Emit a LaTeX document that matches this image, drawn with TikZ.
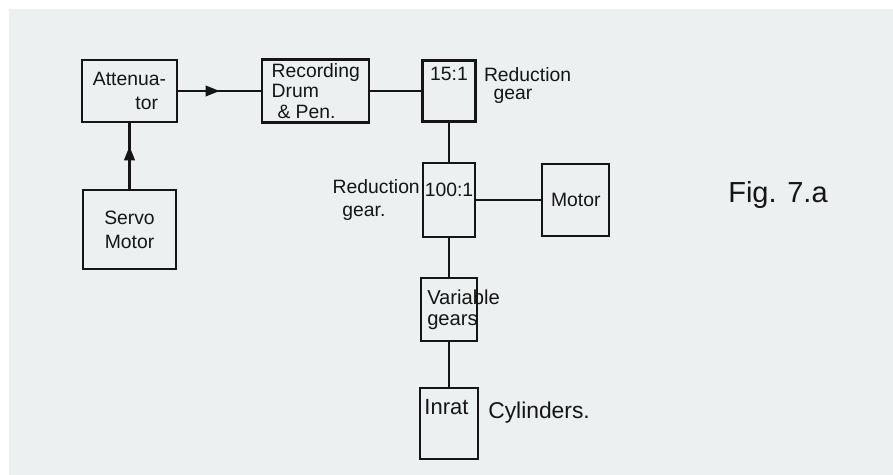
\documentclass[tikz,border=0pt]{standalone}
\usepackage{fontspec}
\setmainfont{Liberation Sans}
\usetikzlibrary{arrows.meta,positioning,decorations.markings}
\definecolor{Ink}    {HTML}{151515}
\definecolor{PaperBg}{HTML}{EDF0F0}

\begin{document}
\begin{tikzpicture}[x=0.02cm,y=-0.02cm,
  box/.style={draw=Ink,rectangle,line width=1.3pt,
    font=\fontsize{11}{14}\selectfont\color{Ink},align=center,inner sep=2pt},
  txt/.style={font=\fontsize{11}{13}\selectfont\color{Ink},align=left,inner sep=0pt},
  link/.style={color=Ink,line width=1.2pt},
  midarr/.style={postaction={decorate},decoration={markings,
    mark=at position #1 with {\arrow{Triangle[length=8pt,width=6pt]}}}},
  midarr/.default=0.5
]
% paper
\fill[white] (0,0) rectangle (893,475);
\fill[PaperBg] (9,9) rectangle (893,475);
\useasboundingbox (0,0) rectangle (893,475);

\node[box,align=left,minimum width=1.9cm,minimum height=1.24cm](att) at (129.5,91)
  {Attenua-\\\hspace*{2.2em}tor};
\node[box,align=left,minimum width=2.14cm,minimum height=1.26cm,inner sep=1pt,
  font=\fontsize{11}{11.5}\selectfont\color{Ink},right=1.66cm of att](rec)
  {Recording\\Drum\\\hspace*{0.3em}\& Pen.};
\node[box,minimum width=1.06cm,minimum height=1.22cm,right=1.02cm of rec](r15){};
\node[box,minimum width=1.04cm,minimum height=1.48cm,below=0.78cm of r15](r100){};
\node[box,minimum width=1.34cm,minimum height=1.44cm,right=1.3cm of r100](motor){Motor};
\node[box,minimum width=1.12cm,minimum height=1.26cm,below=0.78cm of r100](var){};
\node[box,minimum width=1.16cm,minimum height=1.42cm,below=0.9cm of var](inrat){};
\node[box,minimum width=1.86cm,minimum height=1.58cm,below=1.32cm of att](servo)
  {Servo\\Motor};

% texts in and beside the boxes
\node[txt,anchor=north](r15t) at ([yshift=-4.5pt]r15.north){15:1};
\node[txt,anchor=north west,font=\fontsize{11}{10}\selectfont\color{Ink}](r15l)
  at ([xshift=4pt,yshift=-4.5pt]r15.north east){Reduction\\\hspace*{0.5em}gear};
\node[txt,anchor=north](r100t) at ([yshift=-12pt]r100.north){100:1};
\node[txt,anchor=north east](r100l) at ([xshift=-1pt,yshift=-10pt]r100.north west)
  {Reduction\\\hspace*{0.5em}gear.};
\node[txt,anchor=north west,font=\fontsize{11.5}{12}\selectfont\color{Ink}](vart)
  at ([xshift=4pt,yshift=-7pt]var.north west){Variable\\gears};
\node[txt,anchor=north west,font=\fontsize{12.5}{13}\selectfont\color{Ink}](inratt)
  at ([xshift=3pt,yshift=-7pt]inrat.north west){Inrat};
\node[txt,anchor=north west,font=\fontsize{13}{14}\selectfont\color{Ink}](cyl)
  at ([xshift=5pt,yshift=-8pt]inrat.north east){Cylinders.};
\node[txt,font=\fontsize{16.5}{18}\selectfont\color{Ink}](fig) at (778,195){Fig. 7.a};

\draw[link,midarr](att)--(rec);
\draw[link,midarr=0.65](servo)--(att);
\draw[link](rec)--(r15);\draw[link](r15)--(r100);\draw[link](r100)--(motor);
\draw[link](r100)--(var);\draw[link](var)--(inrat);
\end{tikzpicture}
\end{document}
